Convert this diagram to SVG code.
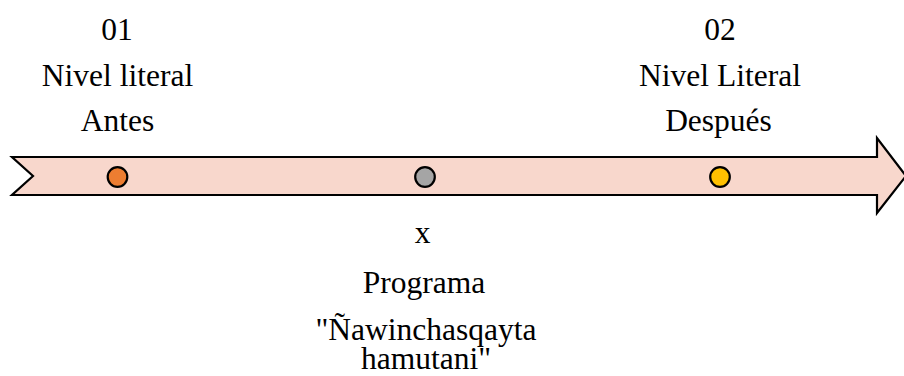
<svg xmlns="http://www.w3.org/2000/svg" width="904" height="376" viewBox="0 0 904 376">
<style>
text{font-family:"Liberation Serif","Times New Roman",serif;font-size:31.5px;fill:#000;text-anchor:middle}
.dot{stroke:#000;stroke-width:2.2}
</style>
<rect width="904" height="376" fill="#fff"/>
<g id="timeline">
<path d="M12,157 L877,157 L877,138 L906,176 L877,213 L877,195 L12,195 L33,176 Z" fill="#F8D7CC" stroke="#000" stroke-width="2.2" stroke-linejoin="miter"/>
</g>
<g id="connectors"></g>
<g id="node-01">
<circle class="dot" cx="117.5" cy="177" r="9.8" fill="#ED7D31"/>
<text x="117" y="40">01</text>
<text x="117.5" y="86">Nivel literal</text>
<text x="117.5" y="131">Antes</text>
</g>
<g id="node-x">
<circle class="dot" cx="425" cy="177" r="9.8" fill="#A5A5A5"/>
<text x="422.5" y="243">x</text>
<text x="424" y="293">Programa</text>
<text x="426" y="340">"Ñawinchasqayta</text>
<text x="426" y="369">hamutani"</text>
</g>
<g id="node-02">
<circle class="dot" cx="720" cy="177" r="9.8" fill="#FFC000"/>
<text x="720" y="40">02</text>
<text x="720" y="86">Nivel Literal</text>
<text x="718.5" y="131">Después</text>
</g>
</svg>
